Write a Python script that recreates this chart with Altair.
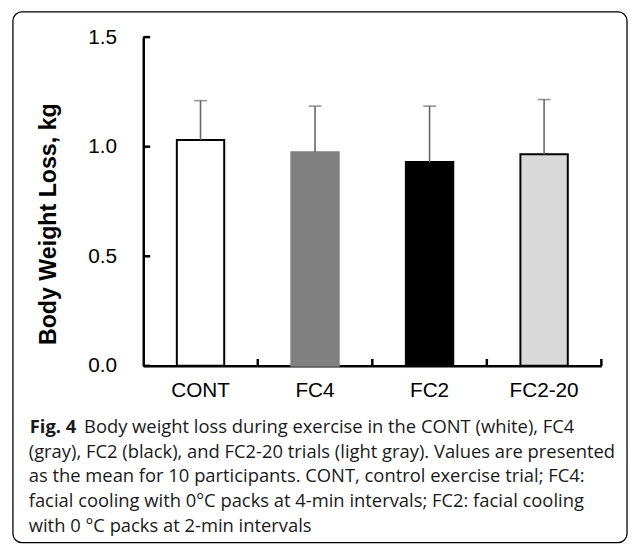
import altair as alt
import pandas as pd

# ---- data ----
categories = ["CONT", "FC4", "FC2", "FC2-20"]
means = [1.03, 0.975, 0.93, 0.965]
sds = [0.18, 0.21, 0.255, 0.25]
fills = ["#ffffff", "#808080", "#000000", "#d9d9d9"]
strokes = ["#000000", "#808080", "#000000", "#000000"]
y_ticks = [0.0, 0.5, 1.0, 1.5]

caption_bold = "Fig. 4"
caption_first = "Body weight loss during exercise in the CONT (white), FC4"
caption_rest = [
    "(gray), FC2 (black), and FC2-20 trials (light gray). Values are presented",
    "as the mean for 10 participants. CONT, control exercise trial; FC4:",
    "facial cooling with 0\u00b0C packs at 4-min intervals; FC2: facial cooling",
    "with 0 \u00b0C packs at 2-min intervals",
]

df = pd.DataFrame({"cat": categories, "mean": means, "sd": sds})
df["upper"] = df["mean"] + df["sd"]

W, H = 464, 333
AX_FONT = "Liberation Sans"
CAP_FONT = "Open Sans"
CAP_SIZE = 18.6

xaxis = alt.Axis(title=None, labelFont=AX_FONT, labelFontSize=21,
                 labelColor="#000", labelPadding=14, ticks=False,
                 domainColor="#000", domainWidth=2.5, labelAngle=0)
xscale = alt.Scale(domain=categories, paddingInner=0, paddingOuter=0)
yscale = alt.Scale(domain=[0, 1.5], nice=False, zero=True)
yaxis = alt.Axis(title="Body Weight Loss, kg", values=y_ticks, format=".1f",
                 labelFont=AX_FONT, labelFontSize=21, labelColor="#000",
                 labelPadding=27, ticks=False, grid=False,
                 domainColor="#000", domainWidth=2.5,
                 titleFont=AX_FONT, titleFontSize=23.5, titleFontWeight="bold",
                 titleColor="#000", titleAngle=270, titleX=-96, titleY=189,
                 titleAlign="center", titleBaseline="middle")

def X(**kw):
    return alt.X("cat:N", sort=categories, scale=xscale, axis=xaxis, **kw)

def Y(field):
    return alt.Y(field, scale=yscale, axis=yaxis, title="Body Weight Loss, kg")

base = alt.Chart(df)

bars = base.mark_bar(size=48, strokeWidth=2).encode(
    x=X(),
    y=Y("mean:Q"),
    fill=alt.Fill("cat:N", scale=alt.Scale(domain=categories, range=fills), legend=None),
    stroke=alt.Stroke("cat:N", scale=alt.Scale(domain=categories, range=strokes), legend=None),
)

err = base.mark_rule(color="#666666", strokeWidth=1.6).encode(
    x=X(),
    y=Y("mean:Q"),
    y2="upper:Q",
)
caps = base.mark_tick(color="#666666", size=13, thickness=1.6).encode(
    x=X(),
    y=Y("upper:Q"),
)

# inward ticks on the axes
ytick_df = pd.DataFrame({"tick": y_ticks})
yticks = alt.Chart(ytick_df).mark_rule(color="#000", strokeWidth=2.5).encode(
    y=Y("tick:Q"),
    x=alt.value(0), x2=alt.value(7),
)
xticks = base.mark_rule(color="#000", strokeWidth=2.5).encode(
    x=X(bandPosition=1),
    y=alt.value(H), y2=alt.value(H - 7),
)

# border box
border = alt.Chart(pd.DataFrame({"b": [0]})).mark_rect(
    fill=None, stroke="#000", strokeWidth=1.3, cornerRadius=9
).encode(x=alt.value(-132), x2=alt.value(490), y=alt.value(-25.5), y2=alt.value(512))

# caption
cap1 = alt.Chart(pd.DataFrame({"t": [caption_bold]})).mark_text(
    font=CAP_FONT, fontSize=CAP_SIZE, fontWeight="bold", align="left", baseline="alphabetic",
    color="#1a1a1a"
).encode(text="t:N", x=alt.value(-115), y=alt.value(401))
cap2 = alt.Chart(pd.DataFrame({"t": [caption_first]})).mark_text(
    font=CAP_FONT, fontSize=CAP_SIZE, align="left", baseline="alphabetic", color="#1a1a1a"
).encode(text="t:N", x=alt.value(-60), y=alt.value(401))
cap3 = alt.Chart(pd.DataFrame({"t": ["\n".join(caption_rest)]})).mark_text(
    font=CAP_FONT, fontSize=CAP_SIZE, align="left", baseline="alphabetic", color="#1a1a1a",
    lineBreak="\n", lineHeight=25
).encode(text="t:N", x=alt.value(-116), y=alt.value(426))

chart = alt.layer(border, bars, err, caps, yticks, xticks, cap1, cap2, cap3).properties(
    width=W, height=H,
    autosize=alt.AutoSizeParams(type="none"),
    padding={"left": 137, "top": 26, "right": 28, "bottom": 180},
).configure_view(stroke=None)

chart.save("out.html", embed_options={"renderer": "svg", "actions": False})
